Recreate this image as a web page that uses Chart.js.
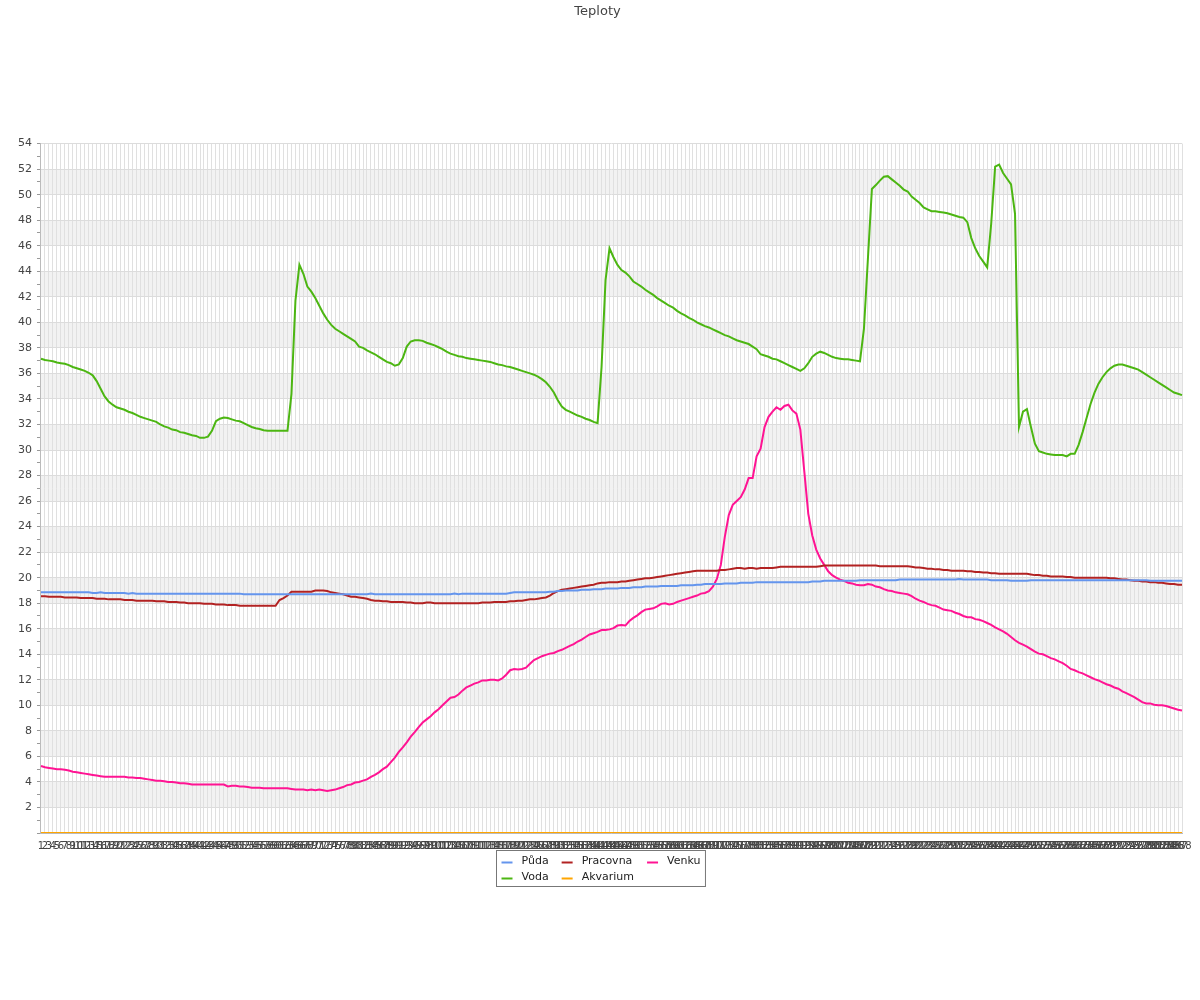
<!DOCTYPE html>
<html>
<head>
<meta charset="utf-8">
<title>Teploty</title>
<script src="https://cdn.jsdelivr.net/npm/chart.js@4.4.1/dist/chart.umd.min.js"></script>
<style>
  body { margin: 0; background: #fff; }
  canvas { display: block; }
</style>
</head>
<body>
<canvas id="teplotyChart" width="1200" height="1000"></canvas>
<script>
// mereni kazdych 5 minut, 288 vzorku za den
const casy = [];
for (let i = 1; i <= 288; i++) casy.push(String(i));

const puda = [
  18.85, 18.85, 18.85, 18.85, 18.85, 18.85, 18.85, 18.85, 18.85, 18.85, 18.85, 18.85,
  18.85, 18.8, 18.8, 18.85, 18.8, 18.8, 18.8, 18.8, 18.8, 18.8, 18.75, 18.8,
  18.75, 18.75, 18.75, 18.75, 18.75, 18.75, 18.75, 18.75, 18.75, 18.75, 18.75, 18.75,
  18.75, 18.75, 18.75, 18.75, 18.75, 18.75, 18.75, 18.75, 18.75, 18.75, 18.75, 18.75,
  18.75, 18.75, 18.75, 18.7, 18.7, 18.7, 18.7, 18.7, 18.7, 18.7, 18.7, 18.7,
  18.7, 18.7, 18.7, 18.7, 18.7, 18.7, 18.7, 18.7, 18.7, 18.7, 18.7, 18.7,
  18.7, 18.7, 18.7, 18.7, 18.7, 18.7, 18.7, 18.7, 18.7, 18.7, 18.7, 18.75,
  18.7, 18.7, 18.7, 18.7, 18.7, 18.7, 18.7, 18.7, 18.7, 18.7, 18.7, 18.7,
  18.7, 18.7, 18.7, 18.7, 18.7, 18.7, 18.7, 18.7, 18.75, 18.7, 18.75, 18.75,
  18.75, 18.75, 18.75, 18.75, 18.75, 18.75, 18.75, 18.75, 18.75, 18.75, 18.8, 18.85,
  18.85, 18.85, 18.85, 18.85, 18.85, 18.85, 18.85, 18.85, 18.9, 18.9, 18.95, 18.95,
  19.0, 19.0, 19.0, 19.0, 19.05, 19.05, 19.05, 19.1, 19.1, 19.1, 19.15, 19.15,
  19.15, 19.15, 19.2, 19.2, 19.2, 19.25, 19.25, 19.25, 19.3, 19.3, 19.3, 19.3,
  19.35, 19.35, 19.35, 19.35, 19.35, 19.4, 19.4, 19.4, 19.4, 19.45, 19.45, 19.5,
  19.5, 19.5, 19.5, 19.5, 19.55, 19.55, 19.55, 19.55, 19.6, 19.6, 19.6, 19.6,
  19.65, 19.65, 19.65, 19.65, 19.65, 19.65, 19.65, 19.65, 19.65, 19.65, 19.65, 19.65,
  19.65, 19.65, 19.7, 19.7, 19.7, 19.75, 19.75, 19.75, 19.75, 19.75, 19.75, 19.75,
  19.75, 19.75, 19.8, 19.8, 19.8, 19.8, 19.8, 19.8, 19.8, 19.8, 19.8, 19.8,
  19.85, 19.85, 19.85, 19.85, 19.85, 19.85, 19.85, 19.85, 19.85, 19.85, 19.85, 19.85,
  19.85, 19.85, 19.85, 19.9, 19.85, 19.85, 19.85, 19.85, 19.85, 19.85, 19.85, 19.8,
  19.8, 19.8, 19.8, 19.8, 19.75, 19.75, 19.75, 19.75, 19.75, 19.8, 19.8, 19.8,
  19.8, 19.8, 19.8, 19.8, 19.8, 19.8, 19.8, 19.8, 19.8, 19.8, 19.8, 19.8,
  19.8, 19.8, 19.8, 19.8, 19.8, 19.8, 19.8, 19.8, 19.8, 19.8, 19.8, 19.8,
  19.8, 19.8, 19.8, 19.75, 19.75, 19.75, 19.75, 19.75, 19.75, 19.75, 19.75, 19.75
];

const voda = [
  37.15, 37.05, 37.0, 36.95, 36.85, 36.8, 36.75, 36.65, 36.5, 36.4, 36.3, 36.2,
  36.05, 35.85, 35.4, 34.8, 34.2, 33.8, 33.55, 33.35, 33.25, 33.15, 33.0, 32.9,
  32.75, 32.6, 32.5, 32.4, 32.3, 32.2, 32.0, 31.85, 31.75, 31.6, 31.55, 31.4,
  31.35, 31.25, 31.15, 31.1, 30.95, 30.95, 31.05, 31.5, 32.25, 32.45, 32.55, 32.5,
  32.4, 32.3, 32.25, 32.1, 31.95, 31.8, 31.7, 31.65, 31.55, 31.5, 31.5, 31.5,
  31.5, 31.5, 31.5, 34.4, 41.7, 44.5, 43.8, 42.8, 42.4, 41.9, 41.3, 40.7,
  40.2, 39.8, 39.5, 39.3, 39.1, 38.9, 38.7, 38.5, 38.1, 38.0, 37.8, 37.65,
  37.5, 37.3, 37.1, 36.9, 36.8, 36.6, 36.7, 37.2, 38.1, 38.5, 38.6, 38.6,
  38.55, 38.4, 38.3, 38.2, 38.05, 37.9, 37.7, 37.55, 37.45, 37.35, 37.3, 37.2,
  37.15, 37.1, 37.05, 37.0, 36.95, 36.9, 36.8, 36.7, 36.65, 36.55, 36.5, 36.4,
  36.3, 36.2, 36.1, 36.0, 35.9, 35.75, 35.55, 35.3, 34.95, 34.5, 33.9, 33.4,
  33.15, 33.0, 32.85, 32.7, 32.6, 32.45, 32.35, 32.2, 32.1, 36.5, 43.3, 45.8,
  45.1, 44.5, 44.1, 43.9, 43.6, 43.2, 43.0, 42.8, 42.55, 42.35, 42.15, 41.9,
  41.7, 41.5, 41.3, 41.15, 40.9, 40.7, 40.55, 40.35, 40.2, 40.0, 39.85, 39.7,
  39.6, 39.45, 39.3, 39.15, 39.0, 38.9, 38.75, 38.6, 38.5, 38.4, 38.3, 38.1,
  37.9, 37.5, 37.4, 37.3, 37.15, 37.1, 36.95, 36.8, 36.65, 36.5, 36.35, 36.2,
  36.4, 36.8, 37.3, 37.55, 37.7, 37.6, 37.45, 37.3, 37.2, 37.15, 37.1, 37.1,
  37.05, 37.0, 36.95, 39.5, 45.0, 50.45, 50.75, 51.1, 51.4, 51.45, 51.2, 50.95,
  50.7, 50.4, 50.25, 49.85, 49.6, 49.35, 49.0, 48.85, 48.7, 48.7, 48.65, 48.6,
  48.55, 48.45, 48.35, 48.25, 48.2, 47.85, 46.6, 45.8, 45.2, 44.75, 44.3, 47.7,
  52.2, 52.35, 51.7, 51.25, 50.8, 48.5, 31.8, 33.0, 33.2, 31.8, 30.5, 29.9,
  29.8, 29.7, 29.65, 29.6, 29.6, 29.6, 29.5, 29.7, 29.7, 30.4, 31.4, 32.5,
  33.6, 34.5, 35.2, 35.7, 36.1, 36.4, 36.6, 36.7, 36.7, 36.6, 36.5, 36.4,
  36.3, 36.1, 35.9, 35.7, 35.5, 35.3, 35.1, 34.9, 34.7, 34.5, 34.4, 34.3
];

const pracovna = [
  18.55, 18.55, 18.5, 18.5, 18.5, 18.5, 18.45, 18.45, 18.45, 18.45, 18.4, 18.4,
  18.4, 18.4, 18.35, 18.35, 18.35, 18.3, 18.3, 18.3, 18.3, 18.25, 18.25, 18.25,
  18.2, 18.2, 18.2, 18.2, 18.2, 18.15, 18.15, 18.15, 18.1, 18.1, 18.1, 18.05,
  18.05, 18.0, 18.0, 18.0, 18.0, 17.95, 17.95, 17.95, 17.9, 17.9, 17.9, 17.85,
  17.85, 17.85, 17.8, 17.8, 17.8, 17.8, 17.8, 17.8, 17.8, 17.8, 17.8, 17.8,
  18.25, 18.4, 18.6, 18.9, 18.9, 18.9, 18.9, 18.9, 18.9, 19.0, 19.0, 19.0,
  18.95, 18.85, 18.8, 18.75, 18.7, 18.6, 18.5, 18.5, 18.45, 18.4, 18.35, 18.25,
  18.2, 18.2, 18.15, 18.15, 18.1, 18.1, 18.1, 18.1, 18.05, 18.05, 18.0, 18.0,
  18.0, 18.05, 18.05, 18.0, 18.0, 18.0, 18.0, 18.0, 18.0, 18.0, 18.0, 18.0,
  18.0, 18.0, 18.0, 18.05, 18.05, 18.05, 18.1, 18.1, 18.1, 18.1, 18.15, 18.15,
  18.2, 18.2, 18.25, 18.3, 18.3, 18.35, 18.4, 18.45, 18.6, 18.8, 18.95, 19.05,
  19.1, 19.15, 19.2, 19.25, 19.3, 19.35, 19.4, 19.45, 19.55, 19.6, 19.6, 19.65,
  19.65, 19.65, 19.7, 19.7, 19.75, 19.8, 19.85, 19.9, 19.95, 19.95, 20.0, 20.05,
  20.1, 20.15, 20.2, 20.25, 20.3, 20.35, 20.4, 20.45, 20.5, 20.55, 20.55, 20.55,
  20.55, 20.55, 20.55, 20.6, 20.6, 20.65, 20.7, 20.75, 20.75, 20.7, 20.75, 20.75,
  20.7, 20.75, 20.75, 20.75, 20.75, 20.8, 20.85, 20.85, 20.85, 20.85, 20.85, 20.85,
  20.85, 20.85, 20.85, 20.85, 20.9, 20.95, 20.95, 20.95, 20.95, 20.95, 20.95, 20.95,
  20.95, 20.95, 20.95, 20.95, 20.95, 20.95, 20.95, 20.9, 20.9, 20.9, 20.9, 20.9,
  20.9, 20.9, 20.9, 20.85, 20.8, 20.8, 20.75, 20.7, 20.7, 20.65, 20.65, 20.6,
  20.6, 20.55, 20.55, 20.55, 20.55, 20.5, 20.5, 20.45, 20.45, 20.4, 20.4, 20.35,
  20.35, 20.3, 20.3, 20.3, 20.3, 20.3, 20.3, 20.3, 20.3, 20.25, 20.2, 20.2,
  20.15, 20.15, 20.1, 20.1, 20.1, 20.1, 20.05, 20.05, 20.0, 20.0, 20.0, 20.0,
  20.0, 20.0, 20.0, 20.0, 20.0, 19.95, 19.95, 19.9, 19.85, 19.85, 19.8, 19.75,
  19.75, 19.7, 19.7, 19.65, 19.65, 19.6, 19.6, 19.55, 19.5, 19.5, 19.45, 19.45
];

const akvarium = [
  0, 0, 0, 0, 0, 0, 0, 0, 0, 0, 0, 0, 0, 0, 0, 0, 0, 0, 0, 0, 0, 0, 0, 0,
  0, 0, 0, 0, 0, 0, 0, 0, 0, 0, 0, 0, 0, 0, 0, 0, 0, 0, 0, 0, 0, 0, 0, 0,
  0, 0, 0, 0, 0, 0, 0, 0, 0, 0, 0, 0, 0, 0, 0, 0, 0, 0, 0, 0, 0, 0, 0, 0,
  0, 0, 0, 0, 0, 0, 0, 0, 0, 0, 0, 0, 0, 0, 0, 0, 0, 0, 0, 0, 0, 0, 0, 0,
  0, 0, 0, 0, 0, 0, 0, 0, 0, 0, 0, 0, 0, 0, 0, 0, 0, 0, 0, 0, 0, 0, 0, 0,
  0, 0, 0, 0, 0, 0, 0, 0, 0, 0, 0, 0, 0, 0, 0, 0, 0, 0, 0, 0, 0, 0, 0, 0,
  0, 0, 0, 0, 0, 0, 0, 0, 0, 0, 0, 0, 0, 0, 0, 0, 0, 0, 0, 0, 0, 0, 0, 0,
  0, 0, 0, 0, 0, 0, 0, 0, 0, 0, 0, 0, 0, 0, 0, 0, 0, 0, 0, 0, 0, 0, 0, 0,
  0, 0, 0, 0, 0, 0, 0, 0, 0, 0, 0, 0, 0, 0, 0, 0, 0, 0, 0, 0, 0, 0, 0, 0,
  0, 0, 0, 0, 0, 0, 0, 0, 0, 0, 0, 0, 0, 0, 0, 0, 0, 0, 0, 0, 0, 0, 0, 0,
  0, 0, 0, 0, 0, 0, 0, 0, 0, 0, 0, 0, 0, 0, 0, 0, 0, 0, 0, 0, 0, 0, 0, 0,
  0, 0, 0, 0, 0, 0, 0, 0, 0, 0, 0, 0, 0, 0, 0, 0, 0, 0, 0, 0, 0, 0, 0, 0
];

const venku = [
  5.25, 5.15, 5.1, 5.05, 5.0, 5.0, 4.95, 4.9, 4.8, 4.75, 4.7, 4.65,
  4.6, 4.55, 4.5, 4.45, 4.4, 4.4, 4.4, 4.4, 4.4, 4.4, 4.35, 4.35,
  4.3, 4.3, 4.25, 4.2, 4.15, 4.1, 4.1, 4.05, 4.0, 4.0, 3.95, 3.9,
  3.9, 3.85, 3.8, 3.8, 3.8, 3.8, 3.8, 3.8, 3.8, 3.8, 3.8, 3.65,
  3.7, 3.7, 3.65, 3.65, 3.6, 3.55, 3.55, 3.55, 3.5, 3.5, 3.5, 3.5,
  3.5, 3.5, 3.5, 3.45, 3.4, 3.4, 3.4, 3.35, 3.4, 3.35, 3.4, 3.35,
  3.3, 3.35, 3.4, 3.5, 3.6, 3.75, 3.8, 3.95, 4.0, 4.1, 4.2, 4.4,
  4.55, 4.75, 5.0, 5.2, 5.55, 5.9, 6.35, 6.7, 7.1, 7.55, 7.9, 8.3,
  8.65, 8.9, 9.15, 9.45, 9.7, 10.0, 10.3, 10.6, 10.65, 10.85, 11.15, 11.4,
  11.55, 11.7, 11.8, 11.95, 11.95, 12.0, 12.0, 11.95, 12.1, 12.4, 12.75, 12.85,
  12.8, 12.85, 12.95, 13.25, 13.55, 13.7, 13.85, 13.95, 14.05, 14.1, 14.25, 14.35,
  14.5, 14.65, 14.8, 15.0, 15.15, 15.35, 15.55, 15.65, 15.75, 15.9, 15.9, 15.95,
  16.05, 16.25, 16.3, 16.25, 16.6, 16.85, 17.05, 17.3, 17.5, 17.55, 17.6, 17.75,
  17.95, 18.0, 17.9, 17.95, 18.1, 18.2, 18.3, 18.4, 18.5, 18.6, 18.75, 18.8,
  18.95, 19.3, 19.9, 21.0, 23.2, 24.9, 25.7, 26.0, 26.3, 26.9, 27.8, 27.8,
  29.5, 30.1, 31.8, 32.6, 33.0, 33.35, 33.15, 33.45, 33.55, 33.1, 32.85, 31.6,
  28.3, 25.0, 23.3, 22.2, 21.5, 21.0, 20.5, 20.2, 20.0, 19.85, 19.75, 19.6,
  19.55, 19.45, 19.4, 19.4, 19.5, 19.45, 19.3, 19.25, 19.1, 19.0, 18.95, 18.85,
  18.8, 18.75, 18.7, 18.55, 18.35, 18.2, 18.1, 17.95, 17.85, 17.8, 17.65, 17.5,
  17.45, 17.4, 17.25, 17.15, 17.0, 16.9, 16.9, 16.75, 16.7, 16.6, 16.45, 16.3,
  16.1, 15.95, 15.8, 15.6, 15.35, 15.1, 14.9, 14.75, 14.6, 14.4, 14.2, 14.05,
  14.0, 13.85, 13.7, 13.6, 13.45, 13.3, 13.1, 12.85, 12.75, 12.6, 12.5, 12.35,
  12.2, 12.05, 11.95, 11.8, 11.65, 11.55, 11.4, 11.3, 11.1, 10.95, 10.8, 10.65,
  10.45, 10.25, 10.15, 10.15, 10.05, 10.0, 10.0, 9.95, 9.85, 9.75, 9.65, 9.6
];

Chart.defaults.font.family = '"DejaVu Sans", sans-serif';

// sede pruhy mezi mrizkou (2-4, 6-8, ...)
const pruhy = {
  id: "pruhy",
  beforeDraw(chart) {
    const { ctx, chartArea, scales } = chart;
    const y = scales.y;
    ctx.save();
    ctx.fillStyle = "#fff";
    ctx.fillRect(0, 0, chart.width, chart.height);
    ctx.fillStyle = "#f2f2f2";
    for (let v = 2; v < y.max; v += 4) {
      const top = y.getPixelForValue(v + 2);
      const bottom = y.getPixelForValue(v);
      ctx.fillRect(chartArea.left, top, chartArea.right - chartArea.left, bottom - top);
    }
    ctx.restore();
  },
};

// legenda v ramecku, dva radky, plneno po sloupcich
const legenda = {
  id: "legenda",
  afterDraw(chart) {
    const ctx = chart.ctx;
    const ds = chart.data.datasets;
    const rows = 2, sample = 11, gap = 9, colGap = 13, rowH = 16, pad = 5;
    const cols = Math.ceil(ds.length / rows);
    ctx.save();
    ctx.font = '11px "DejaVu Sans"';
    const colW = [];
    for (let c = 0; c < cols; c++) {
      let w = 0;
      for (let r = 0; r < rows; r++) {
        const d = ds[c * rows + r];
        if (d) w = Math.max(w, ctx.measureText(d.label).width);
      }
      colW.push(sample + gap + w);
    }
    const inner = colW.reduce((a, b) => a + b, 0) + colGap * (cols - 1);
    const boxW = inner + pad * 2;
    const boxH = rows * rowH + 4;
    const left = Math.round(chart.width / 2 - boxW / 2) + 0.5;
    const top = Math.round(chart.chartArea.bottom + 17) + 0.5;
    ctx.fillStyle = "#fff";
    ctx.fillRect(left, top, boxW, boxH);
    ctx.strokeStyle = "#777";
    ctx.lineWidth = 1;
    ctx.strokeRect(left, top, boxW, boxH);
    let x = left + pad;
    for (let c = 0; c < cols; c++) {
      for (let r = 0; r < rows; r++) {
        const d = ds[c * rows + r];
        if (!d) continue;
        const cy = top + 3 + rowH * r + rowH / 2;
        ctx.strokeStyle = d.borderColor;
        ctx.lineWidth = 2;
        ctx.beginPath();
        ctx.moveTo(x, cy + 1);
        ctx.lineTo(x + sample, cy + 1);
        ctx.stroke();
        ctx.fillStyle = "#222";
        ctx.textBaseline = "middle";
        ctx.textAlign = "left";
        ctx.fillText(d.label, x + sample + gap, cy);
      }
      x += colW[c] + colGap;
    }
    ctx.restore();
  },
};

const teplotyChart = document.querySelector("#teplotyChart");
const myChart = new Chart(teplotyChart, {
  type: "line",
  data: {
    labels: casy,
    datasets: [
      { label: "Půda", data: puda, borderColor: "#6495ed" },
      { label: "Voda", data: voda, borderColor: "#4cb612" },
      { label: "Pracovna", data: pracovna, borderColor: "#b22222" },
      { label: "Akvarium", data: akvarium, borderColor: "#ffa500" },
      { label: "Venku", data: venku, borderColor: "#ff1493" },
    ],
  },
  options: {
    responsive: false,
    animation: false,
    events: [],
    elements: {
      line: { borderWidth: 2, tension: 0, fill: false },
      point: { radius: 0 },
    },
    layout: {
      padding: { left: 13, right: 18, top: 0, bottom: 141 },
    },
    scales: {
      x: {
        offset: false,
        grid: { color: "#e0e0e0", drawTicks: false },
        border: { color: "#bbb" },
        ticks: {
          autoSkip: false,
          maxRotation: 0,
          minRotation: 0,
          padding: 7,
          color: "#444",
          font: { size: 10 },
        },
      },
      y: {
        min: 0,
        max: 54,
        grid: {
          color: (c) => (c.tick && c.tick.value % 2 === 0 ? "#dcdcdc" : "rgba(0,0,0,0)"),
          tickColor: "#999",
          tickLength: 4,
        },
        border: { color: "#bbb" },
        ticks: {
          stepSize: 1,
          autoSkip: false,
          padding: 5,
          color: "#444",
          font: { size: 11 },
          callback: (v) => (v % 2 === 0 && v !== 0 ? v : ""),
        },
      },
    },
    plugins: {
      title: {
        text: "Teploty",
        display: true,
        position: "top",
        color: "#444",
        font: { size: 13, weight: "normal" },
        padding: { top: 4, bottom: 124 },
      },
      legend: { display: false },
      tooltip: { enabled: false },
    },
  },
  plugins: [pruhy, legenda],
});
</script>
</body>
</html>
